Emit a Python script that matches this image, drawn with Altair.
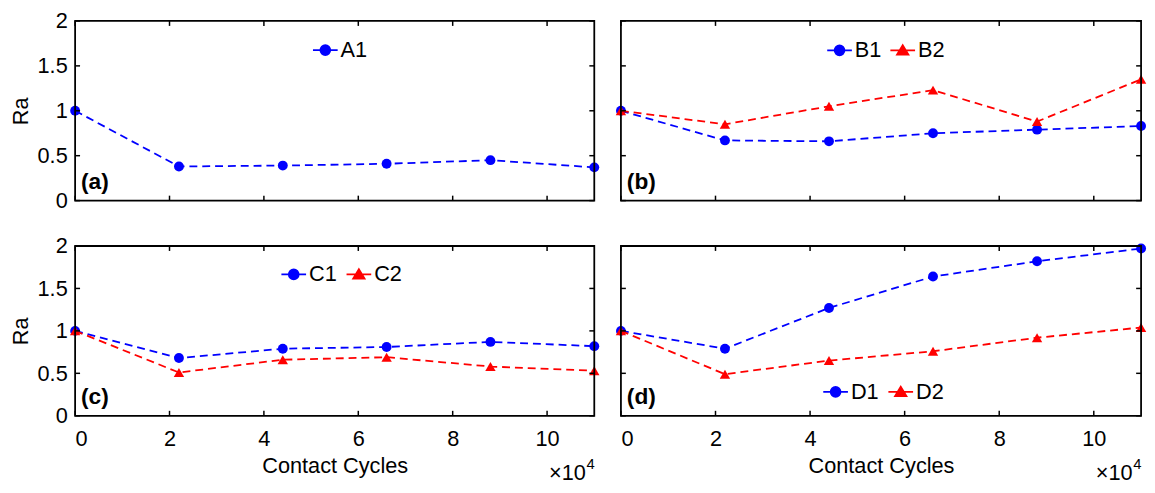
import altair as alt
import pandas as pd

FONT = "Liberation Sans"

# ---------------- data ----------------
x_cycles = [0, 2.2, 4.4, 6.6, 8.8, 11.0]   # x 10^4 contact cycles
series_A1 = [1.00, 0.38, 0.39, 0.41, 0.45, 0.37]
series_B1 = [1.00, 0.67, 0.66, 0.75, 0.79, 0.83]
series_B2 = [1.00, 0.85, 1.05, 1.23, 0.88, 1.35]
series_C1 = [1.00, 0.68, 0.79, 0.81, 0.87, 0.82]
series_C2 = [1.00, 0.51, 0.66, 0.69, 0.58, 0.53]
series_D1 = [1.00, 0.79, 1.27, 1.64, 1.82, 1.97]
series_D2 = [1.00, 0.49, 0.65, 0.76, 0.92, 1.04]

x_ticks = [0, 2, 4, 6, 8, 10]
y_ticks = [0, 0.5, 1, 1.5, 2]
panel_labels = ["(a)", "(b)", "(c)", "(d)"]
x_title = "Contact Cycles"
y_title = "Ra"
exp_base = "\u00d710"
exp_power = "4"

BLUE = "#0000ff"
RED = "#ff0000"
LEG_CIRCLE = "M-1,0L1,0M0.4,0A0.4,0.4,0,1,1,-0.4,0A0.4,0.4,0,1,1,0.4,0Z"
LEG_TRI = "M-1,0L1,0M0,-0.42L0.46,0.34L-0.46,0.34Z"
TICK = 5


def make_df(name, vals):
    return pd.DataFrame({"x": x_cycles, "y": vals, "series": name})


def panel(series, label, W, H, bottom_row, left_col, leg_x, leg_y):
    xs = alt.Scale(domain=[0, 11], nice=False, zero=False)
    ys = alt.Scale(domain=[0, 2], nice=False, zero=False)
    common = dict(ticks=False, domain=False, grid=False, labelFont=FONT, titleFont=FONT,
                  labelFontSize=22, titleFontSize=22, labelColor="black",
                  titleColor="black", titleFontWeight="normal")
    if bottom_row:
        ax_x = alt.Axis(orient="bottom", values=x_ticks, labels=True, format="d",
                        labelPadding=13, title=x_title, titlePadding=6, **common)
    else:
        ax_x = alt.Axis(orient="bottom", values=x_ticks, labels=False, title=None, **common)
    if left_col:
        ax_y = alt.Axis(orient="left", values=y_ticks, labels=True, format="~g",
                        labelPadding=8, title=y_title, titlePadding=5, **common)
    else:
        ax_y = alt.Axis(orient="left", values=y_ticks, labels=False, title=None, **common)

    def X(field):
        return alt.X(field, scale=xs, axis=ax_x)

    def Y(field):
        return alt.Y(field, scale=ys, axis=ax_y)

    layers = []
    names = [s[0] for s in series]
    for name, vals, color, shape in series:
        df = make_df(name, vals)
        line = alt.Chart(df).mark_line(strokeDash=[8, 5], strokeWidth=1.8, color=color).encode(
            x=X("x:Q"), y=Y("y:Q"))
        pts = alt.Chart(df).mark_point(filled=True, opacity=1, shape=shape,
                                       size=100 if shape == "circle" else 110,
                                       color=color).encode(x=X("x:Q"), y=Y("y:Q"))
        layers += [line, pts]

    # box frame and inward ticks on all four sides (MATLAB style)
    frame = alt.Chart(pd.DataFrame({"k": [0]})).mark_rect(
        fill="white", fillOpacity=0, stroke="black", strokeWidth=1.8
    ).encode(x=alt.value(0), x2=alt.value(W), y=alt.value(0), y2=alt.value(H))
    xt = pd.DataFrame({"v": x_ticks})
    yt = pd.DataFrame({"v": y_ticks})
    tick_bottom = alt.Chart(xt).mark_rule(color="black", strokeWidth=1.5).encode(
        x=X("v:Q"), y=alt.value(H - TICK), y2=alt.value(H))
    tick_top = alt.Chart(xt).mark_rule(color="black", strokeWidth=1.5).encode(
        x=X("v:Q"), y=alt.value(0), y2=alt.value(TICK))
    tick_left = alt.Chart(yt).mark_rule(color="black", strokeWidth=1.5).encode(
        y=Y("v:Q"), x=alt.value(0), x2=alt.value(TICK))
    tick_right = alt.Chart(yt).mark_rule(color="black", strokeWidth=1.5).encode(
        y=Y("v:Q"), x=alt.value(W - TICK), x2=alt.value(W))
    layers += [tick_bottom, tick_top, tick_left, tick_right, frame]

    colors = [s[2] for s in series]
    leg_shapes = [LEG_CIRCLE if s[3] == "circle" else LEG_TRI for s in series]
    legend = alt.Legend(orient="none", legendX=leg_x, legendY=leg_y, direction="horizontal",
                        title=None, symbolSize=625, symbolStrokeWidth=1.8,
                        labelFont=FONT, labelFontSize=22, labelColor="black",
                        labelOffset=2, columnPadding=5, padding=0)
    leg_df = pd.DataFrame({"series": names})
    leg = alt.Chart(leg_df).mark_point(filled=True, opacity=1, size=625, strokeWidth=1.8).encode(
        fill=alt.Fill("series:N", scale=alt.Scale(domain=names, range=colors), legend=legend),
        stroke=alt.Stroke("series:N", scale=alt.Scale(domain=names, range=colors), legend=legend),
        shape=alt.Shape("series:N", scale=alt.Scale(domain=names, range=leg_shapes), legend=legend),
    ).transform_filter("false")
    layers.append(leg)

    lab = alt.Chart(pd.DataFrame({"t": [label]})).mark_text(
        align="left", baseline="alphabetic", font=FONT, fontSize=23, fontWeight="bold",
        color="black").encode(x=alt.value(6), y=alt.value(H - 12), text="t:N")
    layers.append(lab)

    if bottom_row:
        e1 = alt.Chart(pd.DataFrame({"t": [exp_base]})).mark_text(
            align="right", baseline="alphabetic", font=FONT, fontSize=22, color="black"
        ).encode(x=alt.value(W - 8.5), y=alt.value(H + 65), text="t:N")
        e2 = alt.Chart(pd.DataFrame({"t": [exp_power]})).mark_text(
            align="left", baseline="alphabetic", font=FONT, fontSize=15, color="black"
        ).encode(x=alt.value(W - 8), y=alt.value(H + 54), text="t:N")
        layers += [e1, e2]

    return alt.layer(*layers).properties(
        width=W, height=H, view=alt.ViewBackground(stroke="transparent"))


pa = panel([("A1", series_A1, BLUE, "circle")], panel_labels[0], 526, 182, False, True, 240, 16)
pb = panel([("B1", series_B1, BLUE, "circle"), ("B2", series_B2, RED, "triangle-up")],
           panel_labels[1], 527, 182, False, False, 208, 16)
pc = panel([("C1", series_C1, BLUE, "circle"), ("C2", series_C2, RED, "triangle-up")],
           panel_labels[2], 526, 172, True, True, 208, 15)
pd_ = panel([("D1", series_D1, BLUE, "circle"), ("D2", series_D2, RED, "triangle-up")],
            panel_labels[3], 527, 172, True, False, 204, 134)

res = dict(fill="independent", stroke="independent", shape="independent")
row1 = alt.hconcat(pa, pb, spacing=15).resolve_scale(**res).resolve_legend(**res)
row2 = alt.hconcat(pc, pd_, spacing=15).resolve_scale(**res).resolve_legend(**res)
chart = alt.vconcat(row1, row2, spacing=22).resolve_scale(**res).resolve_legend(**res).properties(
    padding={"left": 0, "top": -2, "right": 0, "bottom": -4}
).configure(
    font=FONT, background="white",
    view=alt.ViewConfig(stroke="transparent"),
)

chart.save("out.html", embed_options={"renderer": "svg", "actions": False})
